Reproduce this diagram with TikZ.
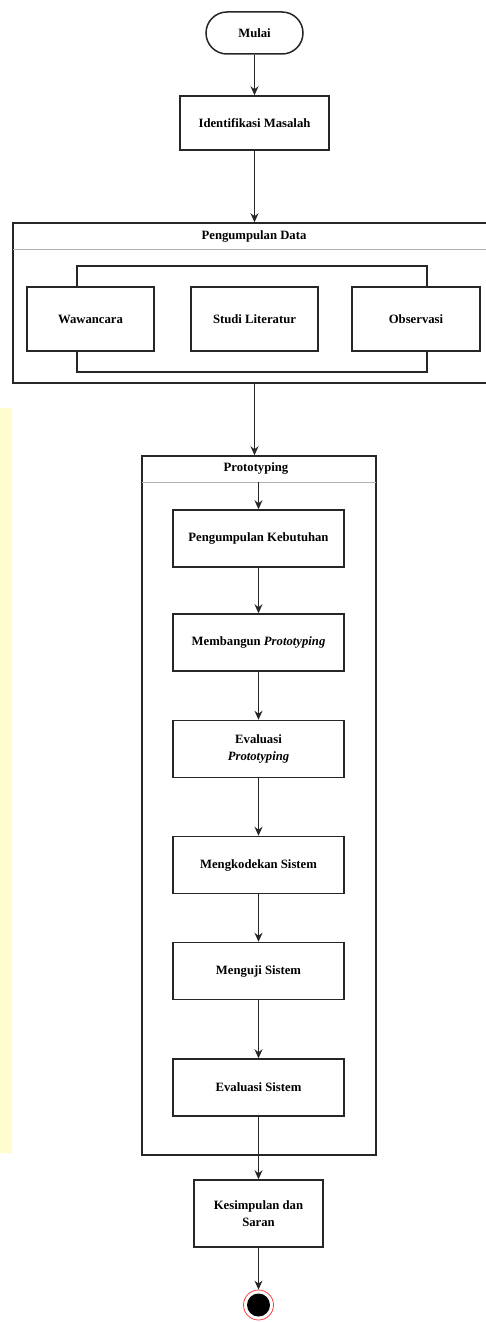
\documentclass[tikz,border=0pt]{standalone}
\usepackage{fontspec}
\setmainfont{Liberation Serif}
\usepackage{tikz}
\usetikzlibrary{calc}
\usetikzlibrary{arrows.meta}
\definecolor{wmyellow}{RGB}{255,252,206}
\tikzset{
   process/.style={draw=black!85, line width=1.5pt, fill=white,
      minimum width=171pt, minimum height=57pt, align=center,
      font=\bfseries\fontsize{12.7}{16.5}\selectfont},
   terminal/.style={process, rounded corners=21pt,
      minimum width=97pt, minimum height=42pt},
   container/.style={draw=black!85, line width=1.5pt, inner sep=0pt},
   header/.style={font=\bfseries\fontsize{12.7}{15}\selectfont},
   flow/.style={line width=1.1pt, black!85},
   >={Stealth[length=9pt,width=8pt]},
    }
\begin{document}
\begin{tikzpicture}[x=1pt,y=-1pt]
        \useasboundingbox (0,0) rectangle (485,1322);
        \fill[wmyellow] (0,408) rectangle (12,1153); % watermark strip

        % start
        \node[terminal] (mulai) at (254.5,33) {Mulai};
        \node[process, minimum width=149pt, minimum height=54pt] (identifikasi) at (254.5,123) {Identifikasi Masalah};

        % pengumpulan data
        \node[container, minimum width=477pt, minimum height=160pt] (pdata) at (251.5,303) {};
        \node[header] (pdatatitle) at (254,236) {Pengumpulan Data};
        \draw[black!30, line width=0.8pt] (13,249) -- (490,249);
        \node[process, minimum width=127pt, minimum height=64pt] (wawancara) at (90.5,319) {Wawancara};
        \node[process, minimum width=127pt, minimum height=64pt] (studi) at (254.5,319) {Studi Literatur};
        \node[process, minimum width=128pt, minimum height=64pt] (observasi) at (416,319) {Observasi};
        \coordinate (btop) at (0,266);
        \coordinate (bbot) at (0,372);
        \draw[container] ([xshift=-13.5pt]wawancara.north) -- ([xshift=-13.5pt]wawancara.north |- btop)
            -- ([xshift=11pt]observasi.north |- btop) -- ([xshift=11pt]observasi.north);
        \draw[container] ([xshift=-13.5pt]wawancara.south) -- ([xshift=-13.5pt]wawancara.south |- bbot)
            -- ([xshift=11pt]observasi.south |- bbot) -- ([xshift=11pt]observasi.south);

        % prototyping
        \node[container, minimum width=234pt, minimum height=699pt] (proto) at (259,805.5) {};
        \node[header] (prototitle) at (256,468) {Prototyping};
        \draw[black!30, line width=0.8pt] (142,482) -- (376,482);
        \coordinate (protoin) at (258.5,482);
        \node[process] (kebutuhan) at (258.5,538.5) {Pengumpulan Kebutuhan};
        \node[process] (membangun) at (258.5,642.5) {Membangun \textit{Prototyping}};
        \node[process] (evalproto) at (258.5,749) {Evaluasi\\\textit{Prototyping}};
        \node[process] (mengkode) at (258.5,865) {Mengkodekan Sistem};
        \node[process] (menguji) at (258.5,971) {Menguji Sistem};
        \node[process] (evalsistem) at (258.5,1087.5) {Evaluasi Sistem};

        % end
        \node[process, minimum width=129pt, minimum height=67pt] (kesimpulan) at (258.5,1213.5) {Kesimpulan dan\\Saran};
        \node[circle, draw=red!75, line width=0.8pt, minimum size=30pt, inner sep=0pt] (selesai) at (258.5,1305) {};
        \fill[black] (selesai.center) circle (11.5);

        % connectors
        \coordinate (pdataout) at (pdata.south -| identifikasi.south);
        \draw[flow,->] (mulai) -- (identifikasi);
        \draw[flow,->] (identifikasi.south) -- (identifikasi.south |- pdata.north);
        \draw[flow,->] (pdataout) -- (pdataout |- proto.north);
        \draw[flow,->] (protoin) -- (kebutuhan);
        \draw[flow,->] (kebutuhan) -- (membangun);
        \draw[flow,->] (membangun) -- (evalproto);
        \draw[flow,->] (evalproto) -- (mengkode);
        \draw[flow,->] (mengkode) -- (menguji);
        \draw[flow,->] (menguji) -- (evalsistem);
        \draw[flow,->] (evalsistem) -- (kesimpulan);
        \draw[flow,->] (kesimpulan) -- (selesai);

        \end{tikzpicture}
\end{document}
